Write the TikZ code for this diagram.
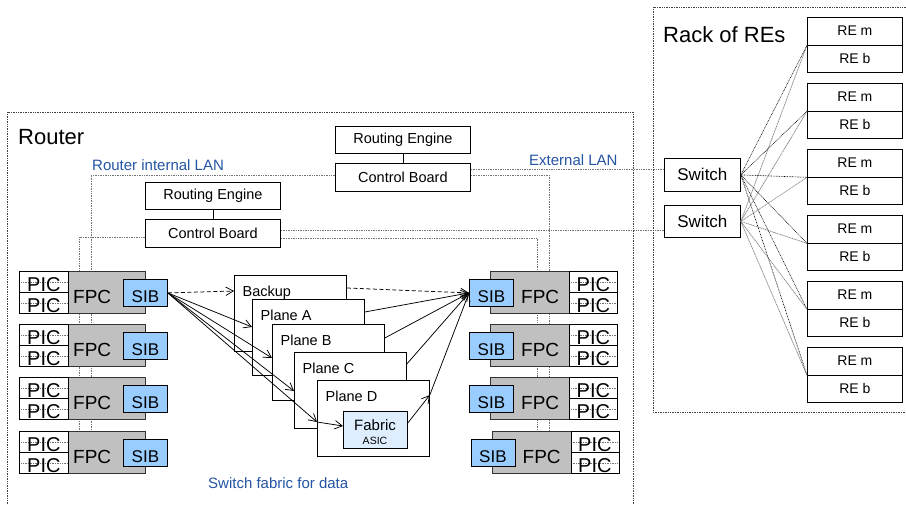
\documentclass[tikz,border=0pt]{standalone}
\usepackage{fontspec}
\setmainfont{Liberation Sans}
\usetikzlibrary{arrows.meta,calc}
\pgfdeclarelayer{bg}
\pgfsetlayers{bg,main}

\definecolor{fpcgray}{RGB}{192,192,192}
\definecolor{sibblue}{RGB}{153,204,255}
\definecolor{asicblue}{RGB}{222,238,255}
\definecolor{lanblue}{RGB}{36,84,164}

\tikzset{
  fsize/.style={font=\fontsize{#1}{#1}\selectfont},
  frame/.style={draw=black!75, line width=0.8pt, dash pattern=on 0.8pt off 0.9pt},
  lan/.style={draw=black!55, line width=0.8pt, dash pattern=on 0.8pt off 0.9pt},
  box/.style={draw=black, line width=0.8pt, fill=white, inner sep=0pt, anchor=north west},
  picbox/.style={box, minimum width=49pt, minimum height=21pt, fsize=20,
    text height=18.5pt, text depth=0pt,
    path picture={\draw[lan] (path picture bounding box.west) -- (path picture bounding box.east);}},
  fpcbox/.style={box, fill=fpcgray, draw=black!80, minimum height=42pt},
  sibbox/.style={box, fill=sibblue, minimum width=44pt, minimum height=27pt, fsize=17,
    text height=19pt, text depth=0pt},
  fpclbl/.style={anchor=base west, inner sep=0pt, fsize=19},
  rebox/.style={box, minimum width=135pt, fsize=14.5},
  swbox/.style={box, minimum width=76pt, fsize=17},
  rackbox/.style={box, minimum width=95pt, minimum height=27.5pt, fsize=14},
  plane/.style={box, minimum width=112pt, minimum height=76pt},
  planelbl/.style={anchor=base west, inner sep=0pt, fsize=14.5},
  title/.style={anchor=base west, inner sep=0pt, fsize=22},
  lanlbl/.style={anchor=base west, inner sep=0pt, fsize=15, text=lanblue},
  arr/.style={line width=0.75pt, -{Straight Barb[length=7.5pt,width=8.5pt,line width=0.75pt]}},
  dasharr/.style={arr, dash pattern=on 4pt off 2.5pt},
  rackA/.style={draw=black, line width=0.6pt, dash pattern=on 0.8pt off 0.8pt},
  rackB/.style={draw=black!50, line width=0.7pt, dash pattern=on 1.2pt off 0.6pt},
}

\begin{document}
\begin{tikzpicture}[x=1pt,y=-1pt]
\useasboundingbox (0,0) rectangle (906,504);

% enclosures
\draw[frame] (7,504) -- (7,112) -- (633,112) -- (633,504);
\draw[frame] (906,7) -- (653,7) -- (653,412) -- (906,412);

\node[title] (routerlbl) at (18,144) {Router};
\node[title] (racklbl) at (663,42) {Rack of REs};
\node[lanlbl] (intlan) at (92,170) {Router internal LAN};
\node[lanlbl] (extlan) at (529,165) {External LAN};
\node[lanlbl] (fablbl) at (208,488) {Switch fabric for data};

% routing engines and control boards
\node[rebox, minimum height=27pt] (reA) at (335,126) {Routing Engine};
\node[rebox, minimum height=28pt] (cbA) at (335,163) {Control Board};
\node[rebox, minimum height=27pt] (reB) at (145,182) {Routing Engine};
\node[rebox, minimum height=28pt] (cbB) at (145,219) {Control Board};
\draw[line width=0.8pt] (reA) -- (cbA);
\draw[line width=0.8pt] (reB) -- (cbB);

% switches
\node[swbox, minimum height=33pt] (sw1) at (664,158) {Switch};
\node[swbox, minimum height=32pt] (sw2) at (664,205) {Switch};

% rack of routing engines
\foreach \k in {0,...,5} {
  \node[rackbox] (rem\k) at (807,17+66*\k) {RE m};
  \node[rackbox] (reb\k) at (807,44.5+66*\k) {RE b};
}
\foreach \k in {0,...,5} {
  \draw[rackB] (sw2.east) -- (rem\k.south west);
  \draw[rackA] (sw1.east) -- (rem\k.south west);
}

% line cards, left column
\foreach \k/\t in {0/271,1/324,2/377,3/431} {
  \node[fpcbox, minimum width=77pt] (lfpc\k) at (68,\t) {};
  \node[fpclbl] (lfpct\k) at (73,\t+32) {FPC};
  \node[sibbox] (lsib\k) at (123,\t+8) {SIB};
  \node[picbox] (lpicu\k) at (19,\t) {PIC};
  \node[picbox] (lpicl\k) at (19,\t+21) {PIC};
}
% line cards, right column
\foreach \k/\t/\d in {0/271/0,1/324/0,2/377/0,3/431/1.5} {
  \node[fpcbox, minimum width=79pt] (rfpc\k) at (490+\d,\t) {};
  \node[fpclbl] (rfpct\k) at (521+\d,\t+32) {FPC};
  \node[sibbox] (rsib\k) at (469+\d,\t+8) {SIB};
  \node[picbox, minimum width=48pt] (rpicu\k) at (569+\d,\t) {PIC};
  \node[picbox, minimum width=48pt] (rpicl\k) at (569+\d,\t+21) {PIC};
}

% internal and external LAN wiring
\coordinate (lanTL) at (91,175);
\coordinate (lanBL) at (79,237);
\coordinate (lanTR) at (549,175);
\coordinate (lanBR) at (537,238);
\coordinate (extA) at (0,169);
\coordinate (extB) at (0,230);
\begin{pgfonlayer}{bg}
  \draw[lan] (cbA.west |- lanTL) -- (lanTL) -- (lanTL |- lfpc3.north);
  \draw[lan] (cbB.west |- lanBL) -- (lanBL) -- (lanBL |- lfpc3.north);
  \draw[lan] (cbA.east |- lanTR) -- (lanTR) -- (lanTR |- rfpc3.north);
  \draw[lan] (cbB.east |- lanBR) -- (lanBR) -- (lanBR |- rfpc3.north);
  \draw[lan] (cbA.east |- extA) -- (sw1.west |- extA);
  \draw[lan] (cbB.east |- extB) -- (sw2.west |- extB);
\end{pgfonlayer}

% switch fabric planes
\foreach \n/\x/\y/\l in {bk/234/275/Backup, pa/252/299/Plane A, pb/272/324/Plane B,
                        pc/294/352/Plane C, pd/317/380/Plane D} {
  \node[plane] (\n) at (\x,\y) {};
  \node[planelbl] (\n lbl) at (\x+8.5,\y+21) {\l};
}
\node[box, fill=asicblue, minimum width=64pt, minimum height=37pt] (asic) at (343,411) {};
\node[anchor=base, inner sep=0pt, fsize=15] (asict1) at (375,430) {Fabric};
\node[anchor=base, inner sep=0pt, fsize=10.5] (asict2) at (375,444) {ASIC};

% data paths into the fabric
\draw[dasharr] (lsib0.east) -- ($(bk.north west)+(0,16)$);
\draw[arr] (lsib0.east) -- ($(pa.north west)+(0,28)$);
\draw[arr] (lsib0.east) -- ($(pb.north west)+(0,34)$);
\draw[arr] (lsib0.east) -- ($(pc.north west)+(0,39)$);
\draw[arr] (lsib0.east) -- ($(pd.north west)+(0,42)$) coordinate (pdin);
\draw[arr] (pdin) -- ($(asic.north west)+(0,15)$);

% data paths out of the fabric
\draw[dasharr] ($(bk.north east)+(0,13)$) -- (rsib0.west);
\draw[arr] ($(pa.north east)+(0,13)$) -- (rsib0.west);
\draw[arr] ($(pb.north east)+(0,14)$) -- (rsib0.west);
\draw[arr] ($(pc.north east)+(0,12)$) -- (rsib0.west);
\draw[arr] ($(asic.north east)+(0,12)$) -- ($(pd.north east)+(0,15)$) coordinate (pdout);
\draw[arr] (pdout) -- (rsib0.west);
\end{tikzpicture}
\end{document}
